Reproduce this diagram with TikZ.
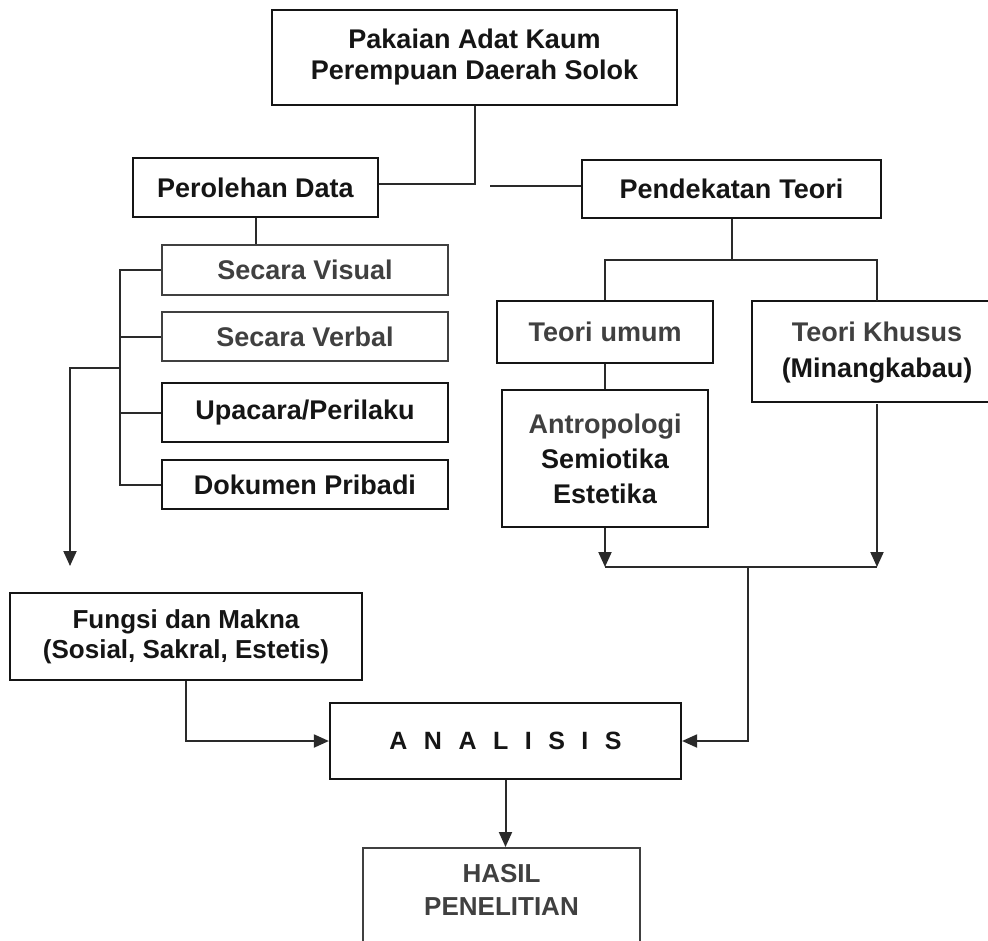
\documentclass[tikz,border=0pt]{standalone}
\usepackage{fontspec}
\setmainfont{Liberation Sans}
\usetikzlibrary{arrows.meta}
\definecolor{ink}{HTML}{151515}
\definecolor{greyink}{HTML}{404040}
\definecolor{lineink}{HTML}{2a2a2a}
\newcommand{\lgap}{\hspace{16.5pt}}
\tikzset{
  box/.style={draw=ink, line width=2.2pt, rectangle, inner sep=0pt, align=center,
              font=\fontsize{27}{31}\selectfont\bfseries, text=ink},
  greybox/.style={box, draw=greyink, text=greyink},
  conn/.style={draw=lineink, line width=2pt},
  arr/.style={conn, -{Triangle[length=15pt,width=13pt]}},
}
\begin{document}
\begin{tikzpicture}[x=1pt,y=-1pt]
\useasboundingbox (0,0) rectangle (988,940);
\fill[white] (0,0) rectangle (988,940);
\clip (0,0) rectangle (988,940);

% nodes
\node[box, minimum width=405, minimum height=95] (top) at (474.5,57.5)
  {Pakaian Adat Kaum\\Perempuan Daerah Solok};
\node[box, minimum width=245, minimum height=59] (perolehan) at (255.5,187.5) {Perolehan Data};
\node[box, minimum width=299, minimum height=58] (pendekatan) at (731.5,189) {Pendekatan\hspace{8pt}Teori};

\node[greybox, minimum width=286, minimum height=50] (visual) at (305,270) {Secara Visual};
\node[greybox, minimum width=286, minimum height=49] (verbal) at (305,336.5) {Secara Verbal};
\node[box, minimum width=286, minimum height=59] (upacara) at (305,412.5) {Upacara/Perilaku};
\node[box, minimum width=286, minimum height=49] (dokumen) at (305,484.5) {Dokumen Pribadi};

\node[box, minimum width=216, minimum height=62] (umum) at (605,332) {\textcolor{greyink}{Teori\hspace{8pt}umum}};
\node[box, draw=none, minimum width=248, minimum height=101, font=\fontsize{27}{36}\selectfont\bfseries] (khusus) at (877,352.5)
  {\textcolor{greyink}{Teori Khusus}\\(Minangkabau)};
\draw[draw=ink, line width=2.2pt] (khusus.north west) rectangle ++(300,101);
\node[box, minimum width=206, minimum height=137, font=\fontsize{27}{35}\selectfont\bfseries] (antro) at (605,458.5)
  {\textcolor{greyink}{Antropologi}\\Semiotika\\Estetika};

\node[box, minimum width=352, minimum height=87, font=\fontsize{26}{30}\selectfont\bfseries] (fungsi) at (186,636.5)
  {Fungsi dan Makna\\(Sosial, Sakral, Estetis)};
\node[box, minimum width=351, minimum height=76, font=\fontsize{25}{30}\selectfont\bfseries] (analisis) at (505.5,741)
  {A\lgap N\lgap A\lgap L\lgap I\lgap S\lgap I\lgap S};
\node[greybox, minimum width=277, minimum height=130, anchor=north] (hasil) at (501.5,847) {};
\node[font=\fontsize{26}{33}\selectfont\bfseries, text=greyink, align=center] (hasiltxt) at (501.5,890)
  {HASIL\\PENELITIAN};

% connectors
\coordinate (jl) at (474.5,184);
\draw[conn] (top.south) -- (jl) -- (perolehan.east |- jl);
\coordinate (gapend) at (490,186);
\draw[conn] (gapend) -- (pendekatan.west |- gapend);

\draw[conn] (perolehan.south) -- (perolehan.south |- visual.north);

\coordinate (bk) at (120,0);
\draw[conn] (visual.west) -- (bk |- visual.west) -- (bk |- dokumen.west) -- (dokumen.west);
\draw[conn] (verbal.west) -- (bk |- verbal.west);
\draw[conn] (upacara.west) -- (bk |- upacara.west);
\coordinate (brs) at (120,368);
\coordinate (bre) at (70,566);
\draw[arr] (brs) -| (bre);

\coordinate (pj) at (0,260);
\draw[conn] (pendekatan.south) -- (pendekatan.south |- pj);
\draw[conn] (umum.north) -- (umum.north |- pj) -- (khusus.north |- pj) -- (khusus.north);
\draw[conn] (umum.south) -- (antro.north);

\coordinate (mj) at (0,567);
\draw[arr] (antro.south) -- (antro.south |- mj);
\draw[arr] (khusus.south) -- (khusus.south |- mj);
\draw[conn] (antro.south |- mj) -- (khusus.south |- mj);
\coordinate (rj) at (748,567);
\draw[arr] (rj) |- (analisis.east);

\draw[arr] (fungsi.south) |- (analisis.west);
\draw[arr] (analisis.south) -- (analisis.south |- hasil.north);
\end{tikzpicture}
\end{document}
